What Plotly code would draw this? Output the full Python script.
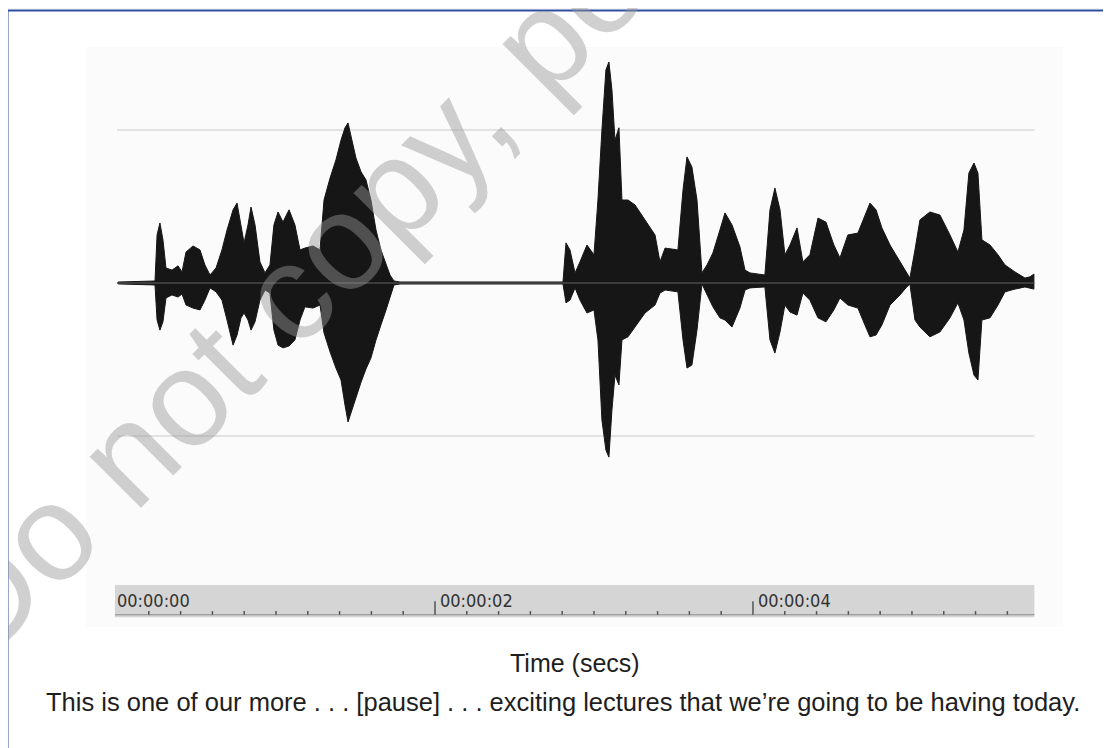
import plotly.graph_objects as go

# ---- waveform envelope (time in seconds, amplitude in % of full scale) ----
time_s = [0.006, 0.239, 0.252, 0.270, 0.289, 0.308, 0.346, 0.384, 0.409, 0.434,
          0.478, 0.522, 0.553, 0.585, 0.623, 0.660, 0.692, 0.730, 0.755, 0.780,
          0.799, 0.824, 0.843, 0.868, 0.899, 0.931, 0.962, 0.987, 1.013, 1.044,
          1.082, 1.119, 1.151, 1.182, 1.233, 1.277, 1.302, 1.340, 1.377, 1.409,
          1.434, 1.453, 1.478, 1.503, 1.535, 1.566, 1.597, 1.629, 1.660, 1.692,
          1.717, 1.742, 1.780,
          2.805, 2.824, 2.849, 2.881, 2.912, 2.956, 3.000, 3.025, 3.050, 3.075,
          3.094, 3.113, 3.132, 3.157, 3.176, 3.214, 3.258, 3.321, 3.384, 3.415,
          3.447, 3.528, 3.560, 3.585, 3.616, 3.648, 3.679, 3.711, 3.748, 3.792,
          3.824, 3.868, 3.918, 3.950, 3.981, 4.075, 4.107, 4.138, 4.170, 4.201,
          4.233, 4.277, 4.314, 4.358, 4.409, 4.459, 4.509, 4.547, 4.597, 4.660,
          4.704, 4.736, 4.774, 4.811, 4.862, 4.925, 4.962, 4.987, 5.019, 5.050,
          5.113, 5.176, 5.239, 5.289, 5.327, 5.358, 5.390, 5.415, 5.440, 5.491,
          5.541, 5.585, 5.648, 5.711, 5.742, 5.767]

upper = [0.3, 0.65, 15.7, 19.6, 14.1, 4.9, 4.2, 5.6, 3.6, 10.1,
         12.1, 10.8, 5.9, 2.6, 4.9, 10.8, 17.3, 23.9, 26.1, 19.0,
         13.1, 19.0, 24.8, 19.0, 6.9, 3.3, 5.9, 19.0, 23.2, 19.9,
         23.9, 19.0, 10.8, 11.4, 12.1, 10.8, 27.1, 34.3, 40.2, 46.7,
         50.7, 52.3, 46.7, 40.8, 36.3, 33.7, 27.1, 17.3, 10.8, 5.9,
         2.6, 0.65, 0.33,
         0.33, 13.1, 10.8, 3.3, 6.9, 12.4, 9.2, 27.1, 50.0, 69.6,
         72.2, 63.1, 46.7, 50.7, 27.1, 27.1, 25.5, 20.6, 15.7, 6.9,
         11.4, 10.8, 30.4, 41.2, 37.9, 27.1, 3.3, 5.9, 9.8, 17.3,
         22.9, 19.0, 11.8, 4.2, 3.3, 2.6, 23.9, 31.0, 23.9, 9.2,
         12.4, 18.0, 6.9, 9.2, 21.2, 19.9, 12.4, 8.2, 15.7, 16.3,
         22.2, 26.1, 23.9, 18.0, 12.4, 6.9, 3.6, 1.6, 10.8, 20.6,
         23.2, 22.2, 15.7, 10.1, 17.3, 35.9, 39.2, 35.9, 14.1, 12.4,
         9.2, 5.9, 3.6, 1.6, 2.0, 2.9]

lower = [-0.3, -0.65, -12.1, -15.4, -12.7, -4.9, -3.9, -4.6, -3.6, -7.2,
         -8.2, -8.8, -5.6, -1.6, -2.9, -5.6, -12.1, -20.3, -17.0, -11.4,
         -9.8, -12.1, -15.4, -12.7, -5.6, -2.3, -3.3, -15.4, -20.3, -21.2,
         -20.6, -18.6, -12.1, -7.8, -8.2, -7.2, -16.3, -22.5, -27.8, -31.7,
         -39.9, -45.4, -41.5, -37.6, -32.4, -28.1, -24.5, -18.6, -13.7, -8.8,
         -4.9, -0.65, -0.33,
         -0.33, -6.5, -5.6, -1.6, -5.6, -9.8, -8.8, -18.6, -44.8, -54.6,
         -56.9, -41.5, -30.1, -33.3, -18.6, -17.6, -14.4, -9.8, -7.2, -3.3,
         -2.3, -2.9, -18.6, -27.8, -26.8, -15.4, -0.33, -3.9, -7.8, -11.4,
         -12.1, -14.4, -8.2, -2.3, -1.6, -1.3, -18.6, -22.9, -16.0, -7.2,
         -9.5, -10.5, -3.3, -5.6, -11.4, -12.7, -8.8, -4.9, -7.2, -8.2,
         -13.7, -17.6, -17.0, -13.7, -7.2, -3.9, -1.6, -0.33, -12.1, -14.4,
         -17.6, -16.0, -11.4, -6.5, -12.1, -22.9, -30.1, -31.7, -12.1, -11.4,
         -7.2, -2.9, -2.0, -1.3, -1.6, -2.0]

# ---- time ruler ----
track_start, track_end = 0.0, 5.77
major_ticks = [0, 2, 4]
tick_labels = ["00:00:00", "00:00:02", "00:00:04"]
minor_ticks = [round(0.2 * i, 1) for i in range(1, 29) if i not in (10, 20)]
grid_levels = [50, -50]

x_title = "Time (secs)"
caption = ("This is one of our more . . . [pause] . . . exciting lectures "
           "that we\u2019re going to be having today.")
watermark = "Do not copy, post, or distribute"

fig = go.Figure()

# waveform body
fig.add_trace(go.Scatter(
    x=time_s + time_s[::-1], y=upper + lower[::-1],
    fill="toself", fillcolor="#161616", mode="lines",
    line=dict(color="#161616", width=1), hoverinfo="skip", showlegend=False))

# centre line
fig.add_trace(go.Scatter(
    x=[track_start, track_end], y=[0, 0], mode="lines",
    line=dict(color="#4a4a4a", width=1.6), hoverinfo="skip", showlegend=False))

shapes = []
for g in grid_levels:
    shapes.append(dict(type="line", xref="x", yref="y", x0=track_start, x1=track_end,
                       y0=g, y1=g, line=dict(color="#e2e2e2", width=2), layer="below"))

# ruler bar
shapes.append(dict(type="rect", xref="x", yref="y", x0=-0.013, x1=track_end,
                   y0=-109.2, y1=-98.7, fillcolor="#d5d5d5", line=dict(width=0),
                   layer="below"))
shapes.append(dict(type="line", xref="x", yref="y", x0=-0.013, x1=track_end,
                   y0=-108.4, y1=-108.4, line=dict(color="#8c8c8c", width=1.2)))
for t in minor_ticks:
    shapes.append(dict(type="line", xref="x", yref="y", x0=t, x1=t,
                       y0=-108.4, y1=-107.2, line=dict(color="#555555", width=1.5)))
for t in major_ticks[1:]:
    shapes.append(dict(type="line", xref="x", yref="y", x0=t, x1=t,
                       y0=-108.4, y1=-104.0, line=dict(color="#555555", width=1.5)))

# page layout (screen pixels; the page body adds an 8px offset)
W, H = 1111, 748
OFF = 8
pw, ph = 977, 580
ml, mt = 86 - OFF, 47 - OFF
mr, mb = W - ml - pw, H - mt - ph


def px(x):
    return (x - OFF - ml) / pw


def py(y):
    return (H - mb - (y - OFF)) / ph


# frame (left + top edges visible)
shapes.append(dict(type="line", xref="paper", yref="paper", x0=px(4), x1=px(4),
                   y0=py(5), y1=py(760), line=dict(color="#ececec", width=5)))
shapes.append(dict(type="line", xref="paper", yref="paper", x0=px(3), x1=px(1120),
                   y0=py(6), y1=py(6), line=dict(color="#ececec", width=5)))
shapes.append(dict(type="line", xref="paper", yref="paper", x0=px(7.5), x1=px(7.5),
                   y0=py(10), y1=py(760), line=dict(color="#2f4f9f", width=2)))
shapes.append(dict(type="line", xref="paper", yref="paper", x0=px(7), x1=px(1120),
                   y0=py(10.5), y1=py(10.5), line=dict(color="#2f4f9f", width=2)))

annotations = []
for t, lab in zip(major_ticks, tick_labels):
    annotations.append(dict(
        x=t, y=-103.6, xref="x", yref="y", text=lab, showarrow=False,
        xanchor="left", yanchor="middle", xshift=(-2 if t == 0 else 3),
        font=dict(family="Liberation Sans Narrow, DejaVu Sans Condensed, Arial Narrow, sans-serif",
                  size=18, color="#333333")))

annotations.append(dict(x=px(575), y=py(663), xref="paper", yref="paper", text=x_title,
                        showarrow=False, xanchor="center", yanchor="middle",
                        font=dict(family="Liberation Sans, Arial, sans-serif", size=25,
                                  color="#1e1e1e")))
annotations.append(dict(x=px(563), y=py(702), xref="paper", yref="paper", text=caption,
                        showarrow=False, xanchor="center", yanchor="middle",
                        font=dict(family="Liberation Sans, Arial, sans-serif", size=25.5,
                                  color="#1e1e1e")))
annotations.append(dict(x=px(603), y=py(-22), xref="paper", yref="paper", text=watermark,
                        showarrow=False, xanchor="center", yanchor="middle", textangle=-45,
                        font=dict(family="Liberation Sans, Arial, sans-serif",
                                  size=137, color="rgba(150,150,150,0.45)")))

fig.update_layout(
    width=W, height=H,
    margin=dict(l=ml, r=mr, t=mt, b=mb, pad=0),
    paper_bgcolor="white", plot_bgcolor="#fbfbfb",
    xaxis=dict(range=[-0.195, 5.950], visible=False, fixedrange=True),
    yaxis=dict(range=[-112.4, 77.1], visible=False, fixedrange=True),
    shapes=shapes, annotations=annotations, showlegend=False)

fig.write_html("out.html")
